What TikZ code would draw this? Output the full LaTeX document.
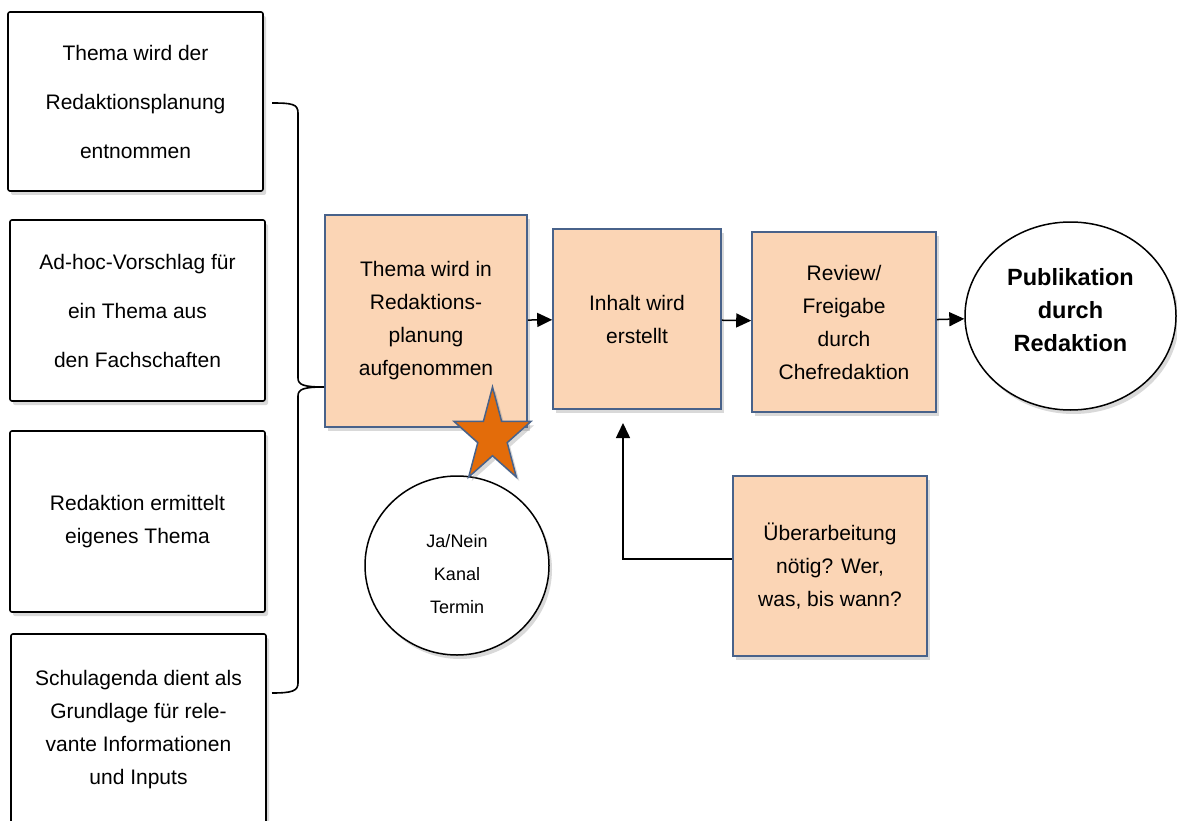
\documentclass[tikz,border=0pt]{standalone}
\usepackage{fontspec}
\setmainfont{Liberation Sans}
\usepackage{tikz}
\usetikzlibrary{positioning, arrows.meta, shapes.geometric, shadows}
\definecolor{peach}{RGB}{251,213,181}
\definecolor{slate}{RGB}{72,98,138}
\definecolor{starorange}{RGB}{227,108,10}
\tikzset{
shade/.style={drop shadow={shadow xshift=3pt, shadow yshift=-4pt, opacity=0.3}}, % soft shadow under every shape
source/.style={draw, line width=1.6pt, rounded corners=2pt, fill=white, shade, align=center, font=\fontsize{21}{33}\selectfont}, % the white boxes on the left
stage/.style={draw=slate, line width=1.6pt, fill=peach, shade, align=center, font=\fontsize{21}{33}\selectfont}, % the peach step boxes
bubble/.style={ellipse, draw, line width=1.5pt, fill=white, shade, align=center, inner sep=0pt}, % round nodes
flow/.style={-{Triangle[length=15pt,width=14pt]}, line width=1.5pt}, % arrows between steps
brace/.style={line width=1.6pt}, % the bracket joining the sources
}
\begin{document}
\begin{tikzpicture}[x=1pt, y=-1pt]
    \useasboundingbox (0,0) rectangle (1177,821);
    % sources
    \node[source, minimum width=255pt, minimum height=179pt, font=\fontsize{21}{49}\selectfont] (topic1) at (135.5,101.5) {Thema wird der\\Redaktionsplanung\\entnommen};
    \node[source, minimum width=255pt, minimum height=181pt, font=\fontsize{21}{49}\selectfont] (topic2) at (137.5,310.5) {Ad-hoc-Vorschlag für\\ein Thema aus\\den Fachschaften};
    \node[source, minimum width=255pt, minimum height=181pt] (topic3) at (137.5,521.5) {Redaktion ermittelt\\eigenes Thema};
    \node[source, minimum width=255pt, minimum height=192pt] (topic4) at (138.5,730) {Schulagenda dient als\\Grundlage für rele-\\vante Informationen\\und Inputs};
    % steps
    \node[stage, minimum width=202pt, minimum height=212pt] (plan) at (426,321) {Thema wird in\\Redaktions-\\planung\\aufgenommen};
    \node[stage, minimum width=168pt, minimum height=180pt] (create) at (637,319) {Inhalt wird\\erstellt};
    \node[stage, minimum width=184pt, minimum height=180pt] (review) at (844,322) {Review/\\Freigabe\\durch\\Chefredaktion};
    \node[bubble, minimum width=211pt, minimum height=188pt, font=\bfseries\fontsize{23.5}{33}\selectfont] (publish) at (1070.5,316) {Publikation\\durch\\Redaktion\rule[-12pt]{0pt}{0pt}};
    \node[bubble, minimum width=184pt, minimum height=179pt, font=\fontsize{18}{33}\selectfont] (channel) at (457,565.5) {\rule{0pt}{30pt}Ja/Nein\\Kanal\\Termin};
    \node[stage, minimum width=194pt, minimum height=180pt] (revise) at (830,566) {Überarbeitung\\nötig? Wer,\\was, bis wann?};
    \begin{scope}[shift={(492.5,436.75)}, xscale=0.814]
        \node[star, star points=5, star point ratio=2.618, minimum size=99.5pt, inner sep=0pt,
              draw=slate, line width=1.5pt, fill=starorange, shade, transform shape] (mark) at (0,0) {};
    \end{scope}
    % bracket
    \coordinate (bracetop) at (272,103);
    \coordinate (bracebot) at (272,693);
    \coordinate (bracetip) at (plan.west |- 0,387);
    \draw[brace] (bracetop) .. controls (292,103) and (298,104) .. (298,113) -- (298,378)
        .. controls (298,385) and (304,387) .. (bracetip)
        .. controls (304,387) and (298,389) .. (298,396) -- (298,683)
        .. controls (298,691) and (292,693) .. (bracebot);
    % arrows
    \coordinate (back) at (623,423);
    \draw[flow] (plan) -- (create);
    \draw[flow] (create) -- (review);
    \draw[flow] (review) -- (publish);
    \draw[flow] ([yshift=7pt]revise.west) -| (back);
\end{tikzpicture}
\end{document}
